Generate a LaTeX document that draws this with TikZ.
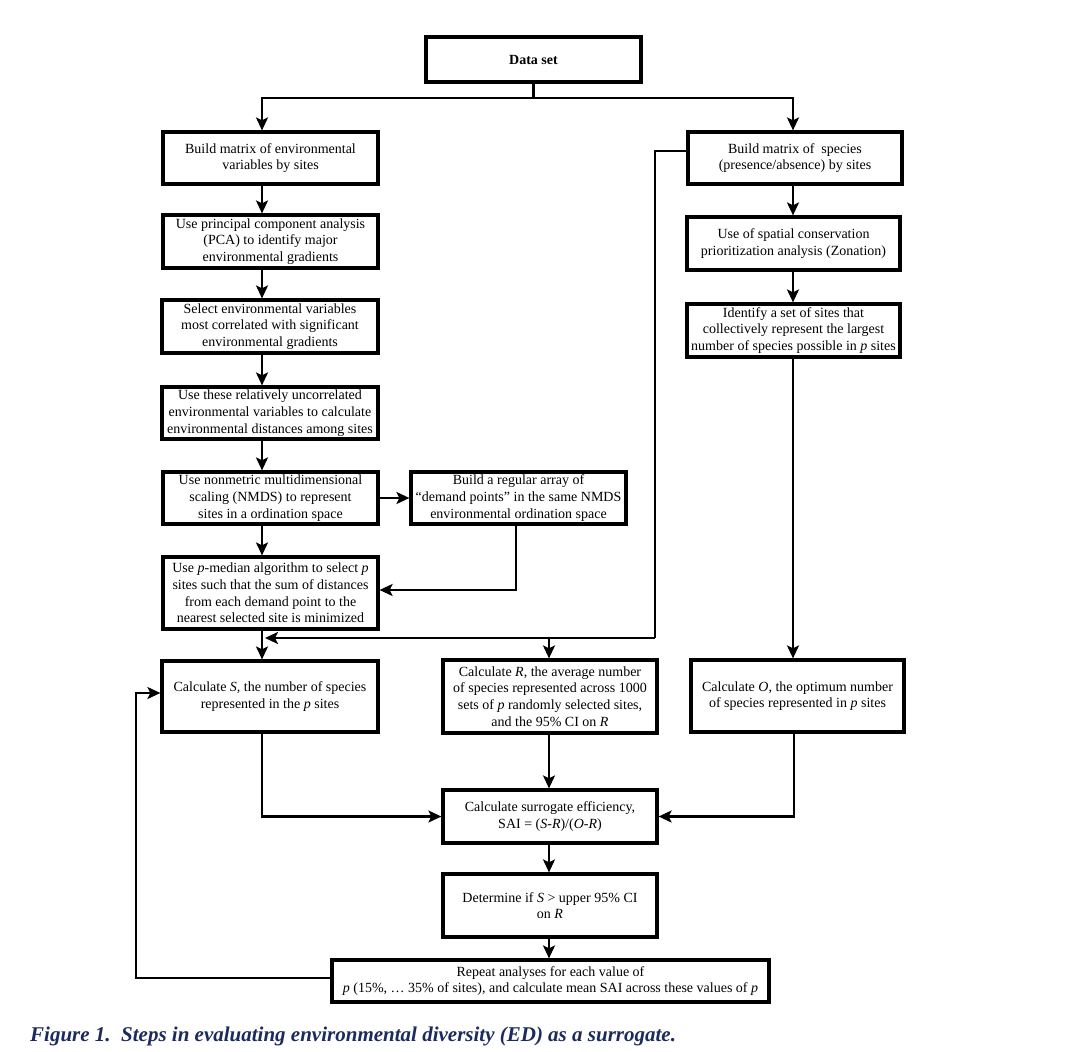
\documentclass[tikz,border=0pt]{standalone}
\usepackage{fontspec}
\setmainfont{Liberation Serif}
\usetikzlibrary{arrows.meta}
\definecolor{capblue}{HTML}{1C2B5E}
\begin{document}
\begin{tikzpicture}[x=1pt,y=-1pt,
  box/.style={draw=black, line width=3.2pt, fill=white, align=center, inner sep=1pt,
              font=\fontsize{14}{16.7}\selectfont},
  conn/.style={line width=2.9pt},
  arr/.style={conn, -{Stealth[length=13pt,width=12pt,inset=3pt]}},
]
\useasboundingbox (0,0) rectangle (1082,1052);
\fill[white] (0,0) rectangle (1082,1052);

% column x positions
\coordinate (lx) at (262,0);
\coordinate (rx) at (793,0);
\coordinate (mx) at (549,0);

% nodes
\node[box, minimum width=215pt, minimum height=45pt, font=\fontsize{14}{16.7}\selectfont\bfseries] (data) at (533.5,59.5) {Data set};

\node[box, minimum width=215pt, minimum height=52pt] (A1) at (270.5,158) {Build matrix of environmental\\variables by sites};
\node[box, minimum width=215pt, minimum height=53pt] (A2) at (270.5,241.5) {Use principal component analysis\\(PCA) to identify major\\environmental gradients};
\node[box, minimum width=216pt, minimum height=53pt] (A3) at (270,326.5) {Select environmental variables\\most correlated with significant\\environmental gradients};
\node[box, minimum width=216pt, minimum height=52pt] (A4) at (270,413) {Use these relatively uncorrelated\\environmental variables to calculate\\environmental distances among sites};
\node[box, minimum width=215pt, minimum height=52pt] (A5) at (270.5,498) {Use nonmetric multidimensional\\scaling (NMDS) to represent\\sites in a ordination space};
\node[box, minimum width=215pt, minimum height=52pt] (DP) at (518.5,498) {Build a regular array of\\“demand points” in the same NMDS\\environmental ordination space};
\node[box, minimum width=215pt, minimum height=72pt] (A6) at (270.5,593) {Use \textit{p}-median algorithm to select \textit{p}\\sites such that the sum of distances\\from each demand point to the\\nearest selected site is minimized};
\node[box, minimum width=216pt, minimum height=71pt] (S) at (270,696.5) {Calculate \textit{S}, the number of species\\represented in the \textit{p} sites};
\node[box, minimum width=214pt, minimum height=73pt] (R) at (550,696.5) {Calculate \textit{R}, the average number\\of species represented across 1000\\sets of \textit{p} randomly selected sites,\\and the 95\% CI on \textit{R}};
\node[box, minimum width=213pt, minimum height=72pt] (O) at (797.5,696) {Calculate \textit{O}, the optimum number\\of species represented in \textit{p} sites};

\node[box, minimum width=214pt, minimum height=52pt] (B1) at (795,158) {Build matrix of\ \ species\\(presence/absence) by sites};
\node[box, minimum width=213pt, minimum height=53pt] (B2) at (793.5,243.5) {Use of spatial conservation\\prioritization analysis (Zonation)};
\node[box, minimum width=213pt, minimum height=53pt] (B3) at (793.5,330.5) {Identify a set of sites that\\collectively represent the largest\\number of species possible in \textit{p} sites};

\node[box, minimum width=214pt, minimum height=53pt] (SAI) at (550,816.5) {Calculate surrogate efficiency,\\SAI = (\textit{S-R})/(\textit{O-R})};
\node[box, minimum width=214pt, minimum height=63pt] (Det) at (550,905.5) {Determine if \textit{S} > upper 95\% CI\\on \textit{R}};
\node[box, minimum width=437pt, minimum height=42pt] (Rep) at (550.5,981) {Repeat analyses for each value of\\\textit{p} (15\%, … 35\% of sites), and calculate mean SAI across these values of \textit{p}};

% caption
\node[anchor=base west, inner sep=0pt, text=capblue,
      font=\fontsize{21}{24}\selectfont\bfseries\itshape] (cap) at (30,1041)
      {Figure 1.\ \ Steps in evaluating environmental diversity (ED) as a surrogate.};

% connectors
\coordinate (j) at (533.5,98);
\draw[conn] (data.south) -- (j);
\draw[arr] (j) -| (A1.north -| lx);
\draw[arr] (j) -| (B1.north -| rx);

\draw[arr] (A1.south -| lx) -- (A2.north -| lx);
\draw[arr] (A2.south -| lx) -- (A3.north -| lx);
\draw[arr] (A3.south -| lx) -- (A4.north -| lx);
\draw[arr] (A4.south -| lx) -- (A5.north -| lx);
\draw[arr] (A5.south -| lx) -- (A6.north -| lx);
\draw[arr] (A6.south -| lx) -- (S.north -| lx);

\draw[arr] (A5.east) -- (DP.west);
\draw[arr] ([xshift=-2.5pt]DP.south) |- ([yshift=3pt]A6.east);

\draw[arr] (B1.south -| rx) -- (B2.north -| rx);
\draw[arr] (B2.south -| rx) -- (B3.north -| rx);
\draw[arr] (B3.south -| rx) -- (O.north -| rx);

\coordinate (bx) at (655,638);
\coordinate (bend) at (265,638);
\draw[conn] ([yshift=7pt]B1.west) -| (bx);
\draw[arr] (bx) -- (bend);
\draw[arr] (bx -| mx) -- (R.north -| mx);

\draw[arr] (S.south -| lx) |- (SAI.west);
\draw[arr] (R.south -| mx) -- (SAI.north -| mx);
\draw[arr] ([xshift=-3.5pt]O.south) |- (SAI.east);
\draw[arr] (SAI.south -| mx) -- (Det.north -| mx);
\draw[arr] (Det.south -| mx) -- (Rep.north -| mx);

\coordinate (loopx) at (136,978);
\draw[arr] ([yshift=3pt]Rep.west) -- (loopx) |- ([yshift=3.5pt]S.west);
\end{tikzpicture}
\end{document}
